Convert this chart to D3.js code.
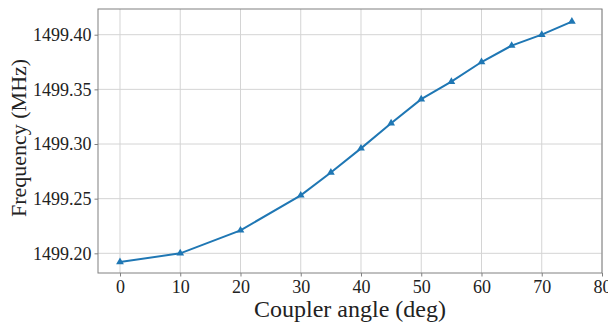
<!DOCTYPE html>
<html>
<head>
<meta charset="utf-8">
<script src="https://cdn.jsdelivr.net/npm/d3@7"></script>
<style>
  body { margin: 0; background: #fff; }
  svg text { font-family: "Liberation Serif", "DejaVu Serif", serif; fill: #222; }
</style>
</head>
<body>
<div id="view"></div>
<script>
// coupler angle (deg) and resonance frequency (MHz)
const angles = [0, 10, 20, 30, 35, 40, 45, 50, 55, 60, 65, 70, 75];
const freqs = [1499.192, 1499.200, 1499.221, 1499.253, 1499.274, 1499.296, 1499.319,
  1499.341, 1499.357, 1499.375, 1499.390, 1499.400, 1499.412];
const xTicks = [0, 10, 20, 30, 40, 50, 60, 70, 80];
const yTicks = [1499.20, 1499.25, 1499.30, 1499.35, 1499.40];

const w = 608;
const h = 324;
const margin = {top: 9, right: 6, bottom: 51, left: 98};
const width = w - margin.left - margin.right;
const height = h - margin.top - margin.bottom;

const svg = d3.select('#view').append('svg')
  .attr('width', w)
  .attr('height', h);

const g = svg.append('g').attr('transform', `translate(${margin.left}, ${margin.top})`);

const x = d3.scaleLinear()
  .domain([-3.65, 80])
  .range([0, width]);

const y = d3.scaleLinear()
  .domain([1499.182, 1499.4235])
  .range([height, 0]);

// grid
g.append('g')
  .selectAll('line')
  .data(xTicks)
  .enter().append('line')
    .attr('x1', d => x(d)).attr('x2', d => x(d))
    .attr('y1', 0).attr('y2', height)
    .attr('stroke', '#d4d4d4')
    .attr('stroke-width', 1);

g.append('g')
  .selectAll('line')
  .data(yTicks)
  .enter().append('line')
    .attr('x1', 0).attr('x2', width)
    .attr('y1', d => y(d)).attr('y2', d => y(d))
    .attr('stroke', '#d4d4d4')
    .attr('stroke-width', 1);

// axes
const xAxis = g.append('g')
  .attr('transform', `translate(0, ${height})`)
  .call(d3.axisBottom(x).tickValues(xTicks).tickSize(3.5).tickPadding(4).tickFormat(d3.format('d')));

const yAxis = g.append('g')
  .call(d3.axisLeft(y).tickValues(yTicks).tickSize(3.5).tickPadding(3).tickFormat(d3.format('.2f')));

for (const ax of [xAxis, yAxis]) {
  ax.attr('font-family', null);
  ax.select('.domain').remove();
  ax.selectAll('line').attr('stroke', '#808080');
  ax.selectAll('text')
    .style('font-family', '"Liberation Serif", "DejaVu Serif", serif')
    .style('font-size', '18px')
    .attr('fill', '#2a2a2a');
}

// frame
g.append('rect')
  .attr('width', width)
  .attr('height', height)
  .attr('fill', 'none')
  .attr('stroke', '#808080')
  .attr('stroke-width', 1);

// series
const line = d3.line()
  .x((d, i) => x(angles[i]))
  .y(d => y(d));

g.append('path')
  .datum(freqs)
  .attr('fill', 'none')
  .attr('stroke', '#1f77b4')
  .attr('stroke-width', 2)
  .attr('d', line);

g.selectAll('.marker')
  .data(freqs)
  .enter().append('path')
    .attr('class', 'marker')
    .attr('transform', (d, i) => `translate(${x(angles[i])}, ${y(d)})`)
    .attr('d', d3.symbol(d3.symbolTriangle, 26))
    .attr('fill', '#1f77b4');

// labels
svg.append('text')
  .attr('x', margin.left + width / 2)
  .attr('y', 317)
  .attr('text-anchor', 'middle')
  .style('font-size', '24px')
  .text('Coupler angle (deg)');

svg.append('text')
  .attr('transform', 'translate(26, 138) rotate(-90)')
  .attr('text-anchor', 'middle')
  .style('font-size', '22px')
  .text('Frequency (MHz)');
</script>
</body>
</html>
